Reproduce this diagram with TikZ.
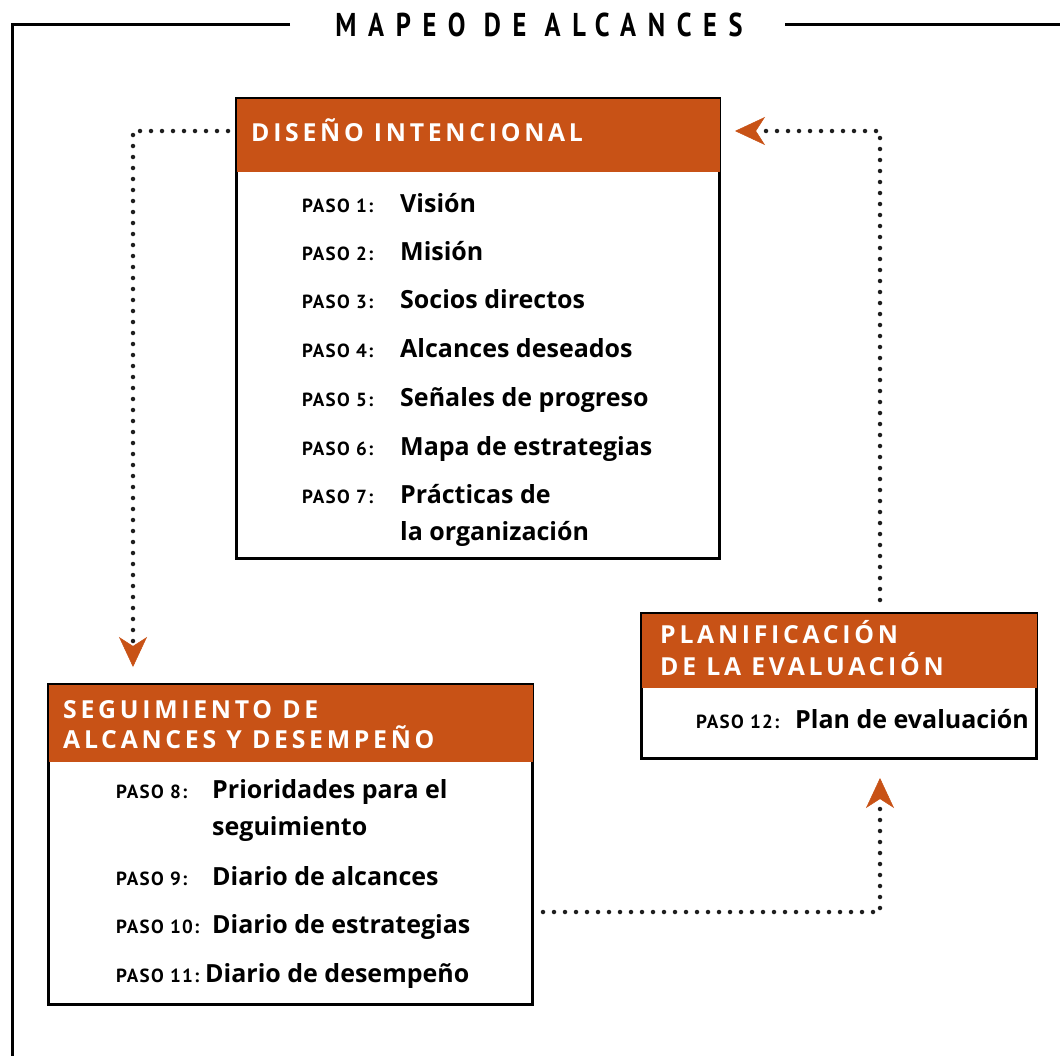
\documentclass[tikz,border=0pt]{standalone}
\usepackage{fontspec}
\setmainfont{PT Sans}
\newfontfamily\titleF[LetterSpace=44]{PT Sans}
\newfontfamily\hdF[LetterSpace=15]{Open Sans}
\newfontfamily\pasoF[LetterSpace=7]{PT Sans}
\newfontfamily\itemF{Open Sans}
\usetikzlibrary{arrows.meta,calc}
\definecolor{om}{RGB}{200,82,22}
\definecolor{dotc}{RGB}{30,30,30}
\tikzset{
  box/.style={draw=black,line width=3pt,anchor=north west,inner sep=0pt,fill=white},
  flow/.style={draw=dotc,line width=4.5pt,line cap=round,dash pattern=on 0pt off 11pt,
    -{Stealth[length=30pt,width=28pt,inset=9pt,color=om,fill=om,line width=0.5pt]}},
  paso/.style={anchor=base west,inner sep=0pt,font=\pasoF\bfseries\fontsize{19pt}{19pt}\selectfont},
  item/.style={anchor=base west,inner sep=0pt,font=\itemF\bfseries\fontsize{25pt}{25pt}\selectfont},
  htxt/.style={anchor=base west,inner sep=0pt,text=white,font=\hdF\bfseries\fontsize{24.8pt}{24.8pt}\selectfont},
  frame/.style={draw=black,line width=3pt},
}
\begin{document}
\begin{tikzpicture}[x=1pt,y=-1pt]
\useasboundingbox (0,0) rectangle (1060,1055);
% frame and title
\node[anchor=base,inner sep=0pt,font=\titleF\bfseries\fontsize{33pt}{33pt}\selectfont] (title) at (539,36) {\scalebox{0.8}[1]{MAPEO DE ALCANCES}};
\draw[frame] (290,24) -- (12,24) -- (12,1060);
\draw[frame] (785,24) -- (1065,24);
% boxes
\node[box,minimum width=483pt,minimum height=460pt] (dis) at (235,97) {};
\fill[om] ($(dis.north west)+(1.5,1.5)$) rectangle ($(dis.north east)+(-1.5,75)$);
\node[box,minimum width=484pt,minimum height=320pt] (seg) at (47,683) {};
\fill[om] ($(seg.north west)+(1.5,1.5)$) rectangle ($(seg.north east)+(-1.5,79)$);
\node[box,minimum width=395pt,minimum height=145pt] (plan) at (640,612) {};
\fill[om] ($(plan.north west)+(1.5,1.5)$) rectangle ($(plan.north east)+(-1.5,76)$);
% headers
\node[htxt] (hdis) at (251,141) {DISEÑO INTENCIONAL};
\node[htxt] (hseg1) at (63,718) {SEGUIMIENTO DE};
\node[htxt] (hseg2) at (63,748) {ALCANCES Y DESEMPEÑO};
\node[htxt] (hplan1) at (660,643) {PLANIFICACIÓN};
\node[htxt] (hplan2) at (660,675) {DE LA EVALUACIÓN};
% intentional design steps
\node[paso] (p1) at (302,212) {PASO 1:};
\node[item] (i1) at (400,212) {Visión};
\node[paso] (p2) at (302,260) {PASO 2:};
\node[item] (i2) at (400,260) {Misión};
\node[paso] (p3) at (302,308) {PASO 3:};
\node[item] (i3) at (400,308) {Socios directos};
\node[paso] (p4) at (302,357) {PASO 4:};
\node[item] (i4) at (400,357) {Alcances deseados};
\node[paso] (p5) at (302,406) {PASO 5:};
\node[item] (i5) at (400,406) {Señales de progreso};
\node[paso] (p6) at (302,455) {PASO 6:};
\node[item] (i6) at (400,455) {Mapa de estrategias};
\node[paso] (p7) at (302,503) {PASO 7:};
\node[item] (i7a) at (400,503) {Prácticas de};
\node[item] (i7b) at (400,540) {la organización};
% monitoring steps
\node[paso] (p8) at (116,798) {PASO 8:};
\node[item] (i8a) at (212,798) {Prioridades para el};
\node[item] (i8b) at (212,835) {seguimiento};
\node[paso] (p9) at (116,885) {PASO 9:};
\node[item] (i9) at (212,885) {Diario de alcances};
\node[paso] (p10) at (116,933) {PASO 10:};
\node[item] (i10) at (212,933) {Diario de estrategias};
\node[paso] (p11) at (116,982) {PASO 11:};
\node[item] (i11) at (205,982) {Diario de desempeño};
% evaluation
\node[paso] (p12) at (696,728) {PASO 12:};
\node[item] (i12) at (795,728) {Plan de evaluación};
% connectors
\draw[flow] ($(dis.north west)+(-7,34)$) -| ($(seg.north west)+(86,-16)$);
\draw[flow] ($(plan.north west)+(240,-12)$) |- ($(dis.north east)+(14,34)$);
\draw[flow] ($(seg.north east)+(9,229)$) -| ($(plan.south west)+(240,18)$);
\end{tikzpicture}
\end{document}
